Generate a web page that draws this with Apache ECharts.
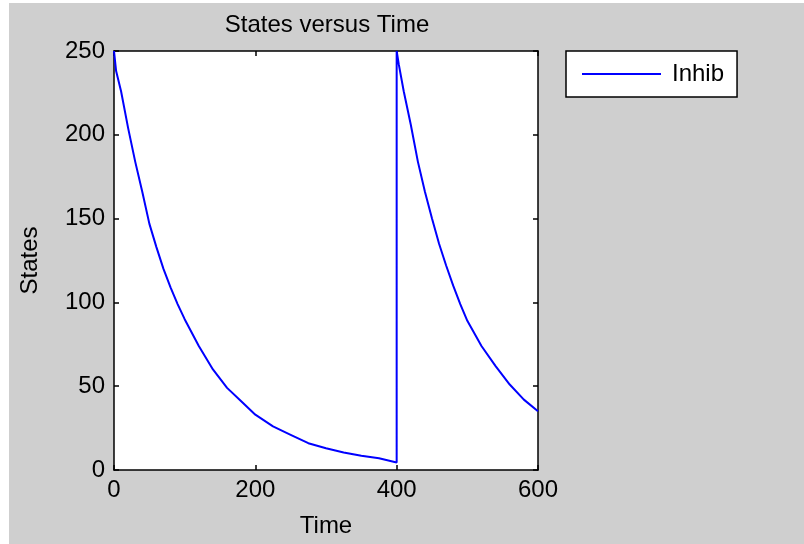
<!DOCTYPE html>
<html lang="en">
<head>
    <meta charset="UTF-8">
    <title>States versus Time</title>
    <script src="https://cdn.jsdelivr.net/npm/echarts@6/dist/echarts.min.js"></script>
    <style type="text/css">
        body { margin: 0; background: #ffffff; }
        #myChart {
            position: absolute;
            left: 9px;
            top: 3px;
            width: 795px;
            height: 541px;
            background: #cfcfcf;
        }
    </style>
</head>
<body>
<div id="myChart"></div>

<script>
    // Inhib curve (time, value)
    var timeVals = [0, 3, 10, 20, 30, 40, 50, 60, 70, 80, 90, 100, 120, 140, 160, 180, 200,
        225, 250, 275, 300, 325, 350, 375, 400,
        400, 403, 410, 420, 430, 440, 450, 460, 470, 480, 490, 500, 520, 540, 560, 580, 600];
    var inhibVals = [250, 238, 226, 204, 184, 166, 147, 133, 120, 109, 99, 90, 74, 60, 49, 41, 33,
        26, 21, 16, 13, 10.5, 8.5, 7, 4.5,
        250, 242, 226, 206, 184, 166, 150, 135, 122, 110, 99, 89, 74, 62, 51, 42, 35];
    var xTicks = [0, 200, 400, 600];
    var yTicks = [0, 50, 100, 150, 200, 250];

    var font = '"Liberation Sans", Arial, sans-serif';
    var seriesData = timeVals.map(function (t, i) { return [t, inhibVals[i]]; });

    var myChart = echarts.init(document.getElementById('myChart'));

    var axisCommon = {
        axisLine: { show: true, onZero: false, lineStyle: { color: '#000', width: 1.5 } },
        axisTick: { show: true, inside: true, length: 5, lineStyle: { color: '#000', width: 1.5 } },
        splitLine: { show: false }
    };

    var option = {
        backgroundColor: '#cfcfcf',
        animation: false,
        title: {
            text: 'States versus Time',
            left: 313,
            top: 5,
            textAlign: 'center',
            textStyle: { fontFamily: font, fontSize: 24, fontWeight: 'normal', color: '#000' }
        },
        legend: {
            left: 557,
            top: 48,
            data: [{ name: 'Inhib', icon: 'rect' }],
            backgroundColor: '#fff',
            borderColor: '#000',
            borderWidth: 1.5,
            borderRadius: 0,
            padding: [11, 13, 11, 16],
            itemWidth: 79,
            itemHeight: 2,
            itemStyle: { color: '#0000ff' },
            textStyle: {
                fontFamily: font, fontSize: 24, color: '#000', lineHeight: 24,
                padding: [0, 0, 0, 6]
            }
        },
        grid: {
            show: true, backgroundColor: '#fff', borderWidth: 0,
            left: 105, top: 48, width: 424, height: 419
        },
        xAxis: [
            Object.assign({
                type: 'value', min: 0, max: 600, interval: 200, position: 'bottom',
                name: 'Time', nameLocation: 'middle', nameGap: 44,
                nameTextStyle: { fontFamily: font, fontSize: 24, color: '#000' },
                axisLabel: {
                    fontFamily: font, fontSize: 24, color: '#000', margin: 8,
                    formatter: function (v) { return xTicks.indexOf(v) >= 0 ? String(v) : ''; }
                }
            }, axisCommon),
            Object.assign({
                type: 'value', min: 0, max: 600, interval: 200, position: 'top',
                axisLabel: { show: false }
            }, axisCommon)
        ],
        yAxis: [
            Object.assign({
                type: 'value', min: 0, max: 250, interval: 50, position: 'left',
                name: 'States', nameLocation: 'middle', nameGap: 72, nameRotate: 90,
                nameTextStyle: { fontFamily: font, fontSize: 24, color: '#000' },
                axisLabel: {
                    fontFamily: font, fontSize: 24, color: '#000', margin: 9,
                    formatter: function (v) { return yTicks.indexOf(v) >= 0 ? String(v) : ''; }
                }
            }, axisCommon),
            Object.assign({
                type: 'value', min: 0, max: 250, interval: 50, position: 'right',
                axisLabel: { show: false }
            }, axisCommon)
        ],
        series: [{
            name: 'Inhib',
            type: 'line',
            xAxisIndex: 0,
            yAxisIndex: 0,
            symbol: 'none',
            lineStyle: { color: '#0000ff', width: 2 },
            itemStyle: { color: '#0000ff' },
            data: seriesData
        }]
    };

    myChart.setOption(option);
</script>
</body>
</html>
